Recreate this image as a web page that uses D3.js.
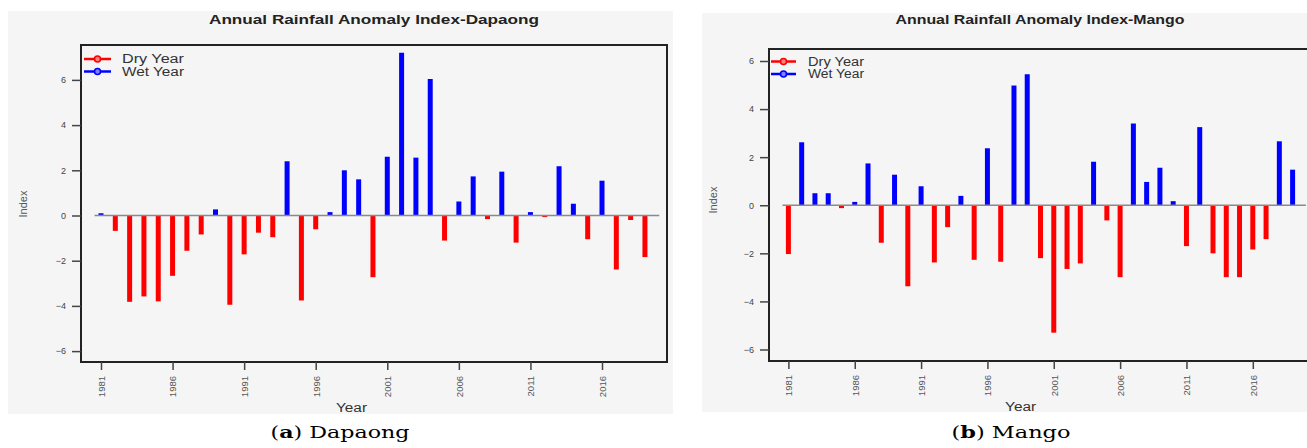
<!DOCTYPE html>
<html>
<head>
<meta charset="utf-8">
<script src="https://cdn.jsdelivr.net/npm/d3@7"></script>
<style>
  body { margin: 0; background: #fff; }
  svg { display: block; font-family: 'Liberation Sans', Arial, sans-serif; }
</style>
</head>
<body>
<div id="wrapper"></div>
<script>
/* DATA */
const years = [
  1981, 1982, 1983, 1984, 1985, 1986, 1987, 1988, 1989, 1990,
  1991, 1992, 1993, 1994, 1995, 1996, 1997, 1998, 1999, 2000,
  2001, 2002, 2003, 2004, 2005, 2006, 2007, 2008, 2009, 2010,
  2011, 2012, 2013, 2014, 2015, 2016, 2017, 2018, 2019,
];
const dapaongIndex = [
  0.1, -0.68, -3.82, -3.58, -3.8, -2.67, -1.56, -0.84, 0.27, -3.95,
  -1.72, -0.76, -0.96, 2.4, -3.76, -0.61, 0.15, 2.0, 1.6, -2.73,
  2.6, 7.2, 2.56, 6.04, -1.11, 0.62, 1.73, -0.16, 1.94, -1.2,
  0.15, -0.07, 2.18, 0.52, -1.05, 1.54, -2.39, -0.2, -1.84,
];
const mangoIndex = [
  -2.03, 2.62, 0.5, 0.5, -0.12, 0.14, 1.74, -1.56, 1.27, -3.37,
  0.79, -2.38, -0.91, 0.39, -2.27, 2.37, -2.35, 4.98, 5.45, -2.2,
  -5.3, -2.65, -2.42, 1.81, -0.63, -2.99, 3.4, 0.97, 1.56, 0.17,
  -1.7, 3.25, -2.0, -2.99, -2.99, -1.84, -1.41, 2.66, 1.48,
];
const yearTicks = [1981, 1986, 1991, 1996, 2001, 2006, 2011, 2016];
const indexTicks = [-6, -4, -2, 0, 2, 4, 6];
const legendLabels = ['Dry Year', 'Wet Year'];

const dryColor = '#ff0000';
const wetColor = '#0000ff';

/* CANVAS */
const width = 1307;
const height = 448;

const svg = d3
  .select('#wrapper')
  .append('svg')
  .attr('width', width)
  .attr('height', height);

function drawPanel(cfg) {
  const xScale = d3.scaleLinear().domain([1981, 2016]).range(cfg.xRange);
  const yScale = d3.scaleLinear().domain([-6, 6]).range(cfg.yRange);

  const panel = svg.append('g');

  // grey plot background
  panel
    .append('rect')
    .attr('x', cfg.bg.x)
    .attr('y', cfg.bg.y)
    .attr('width', cfg.bg.w)
    .attr('height', cfg.bg.h)
    .attr('fill', '#f5f5f5');

  // bars (R type = "h")
  const rows = cfg.values.map((v, i) => ({ year: years[i], value: v }));
  panel
    .append('g')
    .selectAll('line')
    .data(rows)
    .join('line')
    .attr('x1', d => xScale(d.year))
    .attr('x2', d => xScale(d.year))
    .attr('y1', yScale(0))
    .attr('y2', d => yScale(d.value))
    .attr('stroke', d => (d.value < 0 ? dryColor : wetColor))
    .attr('stroke-width', 5);

  // zero line
  panel
    .append('line')
    .attr('x1', xScale(1980.55))
    .attr('x2', xScale(2020))
    .attr('y1', yScale(0))
    .attr('y2', yScale(0))
    .attr('stroke', '#8a8a8a')
    .attr('stroke-width', 1.6);

  // box
  panel
    .append('rect')
    .attr('x', cfg.box.left)
    .attr('y', cfg.box.top)
    .attr('width', cfg.box.right - cfg.box.left)
    .attr('height', cfg.box.bottom - cfg.box.top)
    .attr('fill', 'none')
    .attr('stroke', '#222')
    .attr('stroke-width', 2);

  // y axis
  const yAxis = panel
    .append('g')
    .attr('transform', `translate(${cfg.box.left},0)`)
    .call(
      d3.axisLeft(yScale).tickValues(indexTicks).tickSize(9).tickPadding(6)
    );
  yAxis.select('.domain').remove();
  yAxis.selectAll('line').attr('stroke', '#444').attr('stroke-width', 1.5);
  yAxis
    .selectAll('text')
    .attr('font-size', 9)
    .attr('fill', '#444')
    .attr('font-family', "'Liberation Sans', Arial, sans-serif");

  // x axis
  const xAxis = panel
    .append('g')
    .attr('transform', `translate(0,${cfg.box.bottom})`)
    .call(
      d3.axisBottom(xScale).tickValues(yearTicks).tickSize(8).tickFormat(d3.format('d'))
    );
  xAxis.select('.domain').remove();
  xAxis.selectAll('line').attr('stroke', '#444').attr('stroke-width', 1.5);
  xAxis
    .selectAll('text')
    .attr('font-size', 9.5)
    .attr('fill', '#555')
    .attr('font-family', "'Liberation Sans', Arial, sans-serif")
    .attr('text-anchor', 'end')
    .attr('transform', 'rotate(-90)')
    .attr('x', -14)
    .attr('y', 0)
    .attr('dy', '0.35em');

  // title
  panel
    .append('text')
    .attr('x', cfg.title.x)
    .attr('y', 24)
    .attr('text-anchor', 'middle')
    .attr('font-size', 13)
    .attr('font-weight', 'bold')
    .attr('fill', '#222')
    .attr('textLength', cfg.title.len)
    .attr('lengthAdjust', 'spacingAndGlyphs')
    .text(cfg.title.text);

  // axis titles
  panel
    .append('text')
    .attr('x', xScale(1998.5))
    .attr('y', cfg.box.bottom + 50)
    .attr('text-anchor', 'middle')
    .attr('font-size', 12)
    .attr('fill', '#333')
    .attr('textLength', 31)
    .attr('lengthAdjust', 'spacingAndGlyphs')
    .text('Year');

  panel
    .append('text')
    .attr('transform', `translate(${cfg.indexX},${cfg.indexY}) rotate(-90)`)
    .attr('text-anchor', 'middle')
    .attr('font-size', 11)
    .attr('fill', '#555')
    .text('Index');

  // legend
  const legend = panel
    .append('g')
    .selectAll('g')
    .data(legendLabels)
    .join('g')
    .attr('transform', (d, i) => `translate(${cfg.legend.x},${cfg.legend.y + i * 12.5})`);
  legend
    .append('line')
    .attr('x1', 0)
    .attr('x2', cfg.legend.lineLen)
    .attr('stroke', (d, i) => (i === 0 ? dryColor : wetColor))
    .attr('stroke-width', 2.5);
  legend
    .append('circle')
    .attr('cx', cfg.legend.lineLen / 2)
    .attr('r', 3)
    .attr('fill', (d, i) => (i === 0 ? '#ff8080' : '#8080ff'))
    .attr('stroke', (d, i) => (i === 0 ? dryColor : wetColor))
    .attr('stroke-width', 1.6);
  legend
    .append('text')
    .attr('x', cfg.legend.textDx)
    .attr('dy', '0.35em')
    .attr('font-size', 12)
    .attr('fill', '#333')
    .attr('textLength', cfg.legend.textLen)
    .attr('lengthAdjust', 'spacingAndGlyphs')
    .text(d => d);

  // caption below panel
  const caption = svg
    .append('text')
    .attr('x', cfg.caption.x)
    .attr('y', 438)
    .attr('text-anchor', 'middle')
    .attr('font-family', "'DejaVu Serif', 'Liberation Serif', serif")
    .attr('font-size', 17)
    .attr('fill', '#000')
    .attr('textLength', cfg.caption.len)
    .attr('lengthAdjust', 'spacingAndGlyphs');
  caption.append('tspan').attr('font-weight', 'normal').text('(');
  caption.append('tspan').attr('font-weight', 'bold').text(cfg.caption.letter);
  caption.append('tspan').attr('font-weight', 'normal').text(') ' + cfg.caption.name);
}

drawPanel({
  values: dapaongIndex,
  bg: { x: 8, y: 11, w: 665, h: 403 },
  box: { left: 81, right: 667, top: 45, bottom: 362 },
  xRange: [101, 602],
  yRange: [351.1, 79.9],
  title: { x: 374, len: 330, text: 'Annual Rainfall Anomaly Index-Dapaong' },
  indexX: 27,
  indexY: 204,
  legend: { x: 84, y: 59, lineLen: 27, textDx: 38, textLen: 62 },
  caption: { x: 340, len: 139, letter: 'a', name: 'Dapaong' },
});

drawPanel({
  values: mangoIndex,
  bg: { x: 702, y: 13, w: 610, h: 399 },
  box: { left: 769, right: 1314, top: 49, bottom: 361 },
  xRange: [788.4, 1252.8],
  yRange: [349.5, 61],
  title: { x: 1040, len: 289, text: 'Annual Rainfall Anomaly Index-Mango' },
  indexX: 717,
  indexY: 200,
  legend: { x: 771, y: 61.5, lineLen: 25, textDx: 37, textLen: 56 },
  caption: { x: 1011, len: 119, letter: 'b', name: 'Mango' },
});
</script>
</body>
</html>
